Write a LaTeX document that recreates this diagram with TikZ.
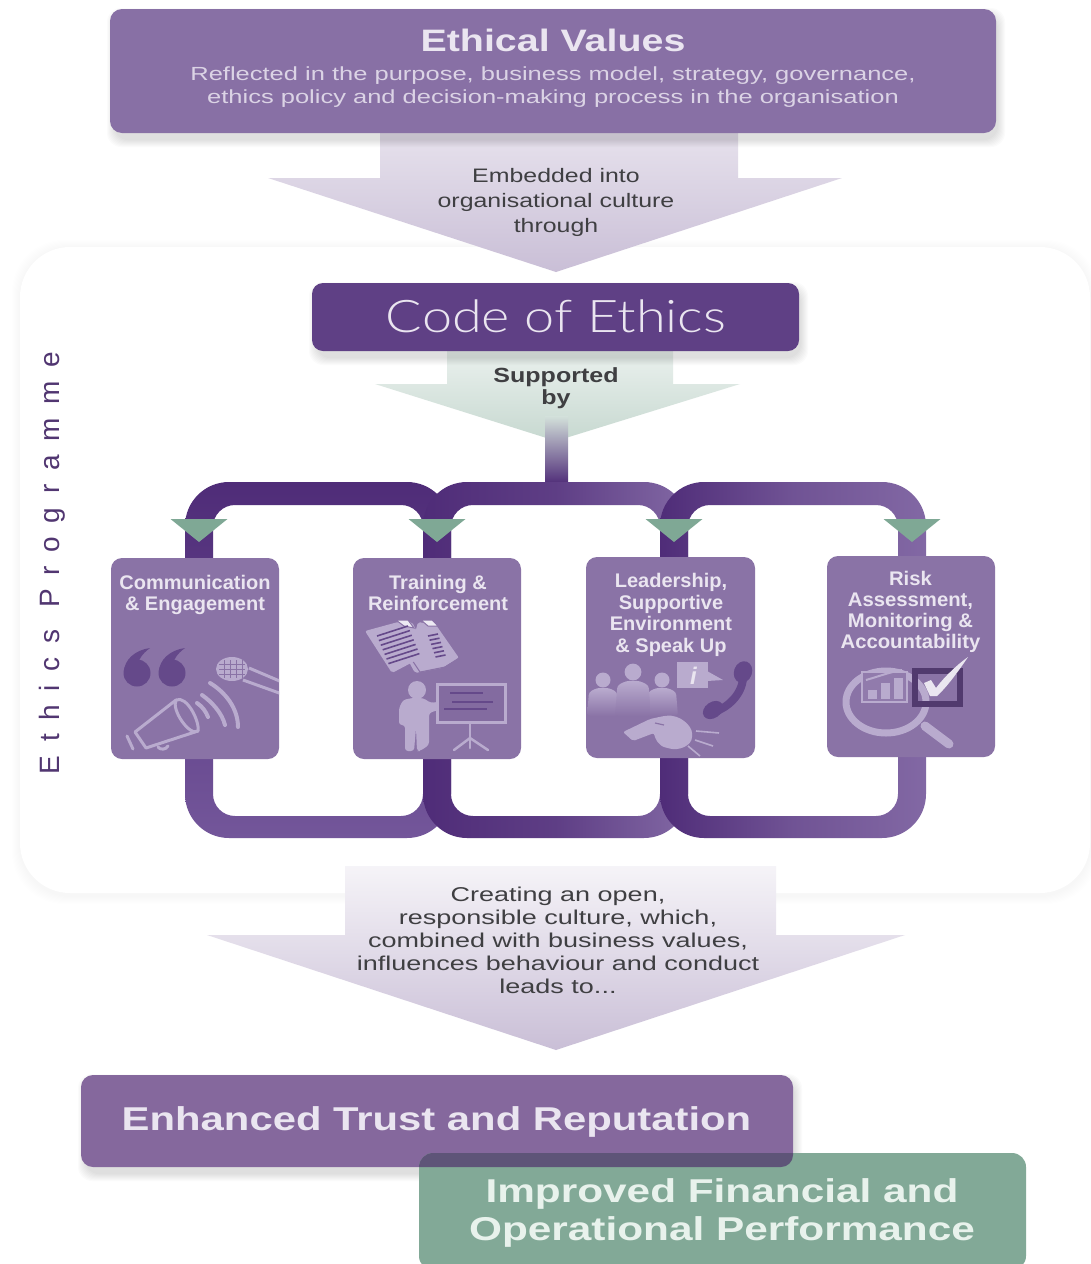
\documentclass[tikz,border=0pt]{standalone}
\usepackage{fontspec}
\usepackage{graphicx}
\setmainfont{Liberation Sans}
\newfontfamily\spacedfont[LetterSpace=49]{Liberation Sans}
\newfontfamily\thinfont{Lato Light}
\definecolor{boxpurple}{HTML}{8A73A6}
\definecolor{topboxc}{HTML}{8870A5}
\definecolor{codec}{HTML}{5F4085}
\definecolor{trustc}{HTML}{85689D}
\definecolor{greenc}{HTML}{82A997}
\definecolor{overlapc}{HTML}{5E5478}
\definecolor{lighttext}{HTML}{EAE5F0}
\definecolor{greytext}{HTML}{3F3F42}
\definecolor{tubedark}{HTML}{4F2C78}
\definecolor{tubemid}{HTML}{73569A}
\definecolor{tubelight}{HTML}{8268A4}
\definecolor{tri}{HTML}{7FA895}
\definecolor{iconl}{HTML}{B9ABCE}
\definecolor{icond}{HTML}{65498A}
\definecolor{greentext}{HTML}{E8F2EC}
\newcommand{\tlines}[4]{\scalebox{#1}[1]{\fontsize{#2}{#3}\selectfont\renewcommand{\arraystretch}{1}\begin{tabular}{@{}c@{}}#4\end{tabular}}}
\newcommand{\softshadow}[4]{\foreach \k in {1,...,8}{\fill[black,opacity=.016,rounded corners=14pt] ({#1-\k+5},{#2-\k+7}) rectangle ({#3+\k+1},{#4+\k+6});}}
\newcommand{\tubeloop}[3]{\shade[even odd rule,#1] [rounded corners=44pt] (#2,482) rectangle (#3,838) [rounded corners=22pt] ({#2+28},505) rectangle ({#3-28},816);}
\tikzset{
  x=1pt,y=-1pt,
  txt/.style={inner sep=0pt,outer sep=0pt,align=center},
  cardbox/.style={fill=boxpurple,rounded corners=11pt},
  cardlabel/.style={txt,font=\bfseries,text=lighttext},
  triangle mark/.style={fill=tri},
  iconline/.style={draw=iconl,line width=3pt,line cap=round,line join=round},
  textrule/.style={draw=icond,line width=2.2pt},
}
\begin{document}
\begin{tikzpicture}
\useasboundingbox (0,0) rectangle (1090,1264);
\fill[white] (0,0) rectangle (1090,1264);

% panel
\foreach \k in {1,...,8}{\fill[black,opacity=.005,rounded corners=52pt] ({20-\k},{247-\k+1}) rectangle ({1090+\k},{893+\k+3});}
\fill[white,rounded corners=50pt] (20,247) rectangle (1090,893);
\node[txt,rotate=90,font=\spacedfont\fontsize{28}{32}\selectfont,text=codec!85!black] (prog) at (52,563) {Ethics Programme};

% first arrow
\shade[top color=white!80!topboxc,bottom color=topboxc!45!white] (380,128)--(738,128)--(738,178)--(842,178)--(556,272)--(268,178)--(380,178)--cycle;
% top box
\softshadow{110}{9}{996}{133}
\fill[fill=topboxc,rounded corners=12pt] (110,9) rectangle (996,133);
\node[txt,font=\bfseries,text=lighttext] (values) at (553,44) {\tlines{1.27}{31}{36}{Ethical Values}};
\node[txt,text=lighttext!85!topboxc] (valuestext) at (553,87) {\tlines{1.342}{19}{23}{Reflected in the purpose, business model, strategy, governance,\\ ethics policy and decision-making process in the organisation}};
\node[txt,text=greytext] (embedded) at (556,202.5) {\tlines{1.277}{19.5}{25}{Embedded into\\ organisational culture\\ through}};

% green arrow
\shade[top color=white!85!greenc,bottom color=greenc!45!white] (447,345)--(673,345)--(673,384)--(740,384)--(556,441)--(375,384)--(447,384)--cycle;
% code box
\softshadow{312}{283}{799}{351}
\fill[codec,rounded corners=11pt] (312,283) rectangle (799,351);
\node[txt,text=lighttext,font=\thinfont] (code) at (556,322) {\tlines{1.2}{45}{50}{Code of Ethics}};
\shade[top color=greenc!35!white,middle color=white!70!gray!80!blue,bottom color=tubedark] (545,416) rectangle (568,484);
\node[txt,font=\bfseries,text=greytext] (support) at (556,389.5) {\tlines{1.22}{20.5}{22}{Supported\\ by}};

% tube loops
\tubeloop{top color=tubedark,bottom color=tubemid}{185}{451}
\tubeloop{left color=tubedark,right color=tubelight,middle color=tubedark!70!tubelight}{423}{688}
\tubeloop{left color=tubedark,right color=tubelight,middle color=tubedark!35!tubelight}{660}{926}

% triangles
\foreach \c in {199,437,674,912}{\fill[triangle mark] ({\c-28.5},519)--({\c+28.5},519)--(\c,542)--cycle;}

% cards
\fill[cardbox] (111,558) rectangle (279,759);
\fill[cardbox] (353,558) rectangle (521,759);
\fill[cardbox] (586,557) rectangle (755,758);
\fill[cardbox] (827,556) rectangle (995,757);
\node[cardlabel] (c1) at (195,595.5) {\tlines{1.015}{19.7}{21}{Communication\\ \& Engagement}};
\node[cardlabel] (c2) at (438,595.5) {\tlines{1.015}{19.7}{21}{Training \&\\ Reinforcement}};
\node[cardlabel] (c3) at (671,615.5) {\tlines{1.015}{19.7}{21.5}{Leadership,\\ Supportive\\ Environment\\ \& Speak Up}};
\node[cardlabel] (c4) at (910.5,612.5) {\tlines{1.03}{19.7}{21}{Risk\\ Assessment,\\ Monitoring \&\\ Accountability}};

% icons card 1: quotes
\foreach \q in {0,35}{
 \fill[icond] (137+\q,673) circle[radius=13.5pt];
 \fill[icond] (124+\q,672) .. controls (124+\q,660) and (135+\q,650) .. (150+\q,648) .. controls (142+\q,654) and (137+\q,660) .. (137+\q,672) -- cycle;
}
% microphone
\begin{scope}
\clip[rounded corners=11pt] (111,558) rectangle (279,759);
\draw[iconl,line width=3pt] (249,668) -- (282,682);
\draw[iconl,line width=3pt] (243,680) -- (282,694);
\end{scope}
\fill[iconl] (232,669) ellipse[x radius=16pt,y radius=12pt];
\foreach \a in {224,230,236,242}{\draw[boxpurple,line width=.7pt] (\a,660) -- (\a,678);}
\foreach \b in {664,669,674}{\draw[boxpurple,line width=.7pt] (219,\b) -- (245,\b);}
% megaphone
\draw[iconline] (176,700) -- (135,732) -- (146,748) -- (198,731);
\draw[iconline] (176,700) .. controls (187,695) and (200,722) .. (198,731) .. controls (190,737) and (171,710) .. (176,700);
\draw[iconline] (127,736) -- (133,749);
\draw[iconline] (158,747) .. controls (160,750) and (166,750) .. (168,746);
\draw[iconl,line width=4pt,line cap=round] (197,703) .. controls (203,707) and (206,712) .. (208,717);
\draw[iconl,line width=4pt,line cap=round] (202,695) .. controls (212,702) and (222,713) .. (225,725);
\draw[iconl,line width=4pt,line cap=round] (210,683) .. controls (225,692) and (238,708) .. (238,727);

% icons card 2: documents
\fill[iconl,rounded corners=2pt] (418,622)--(436,625)--(459,658)--(442,668)--(415,673)--(408,660)--cycle;
\draw[boxpurple,line width=1pt] (412,660)--(420,672)--(445,667)--(459,658);
\fill[iconl,rounded corners=2pt] (365,631)--(398,622)--(412,622)--(428,654)--(392,673)--cycle;
\draw[boxpurple,line width=1pt,fill=white!75!iconl] (396,620)--(404,626)--(414,628)--(408,620)--cycle;
\draw[boxpurple,line width=1pt,fill=white!75!iconl] (421,620)--(428,626)--(438,626)--(432,620)--cycle;
\foreach \i in {0,1,2,3,4,5,6}{\draw[textrule,line width=1.6pt] ({377+\i*1.9},{636+\i*4.6}) -- ({408+\i*1.9},{626+\i*4.6});}
\foreach \i in {0,1,2,3,4,5}{\draw[textrule,line width=1.6pt] ({428+\i*1.5},{636+\i*4.2}) -- ({438+\i*1.5},{634+\i*4.2});}
% presenter
\fill[iconl] (417,690) circle[radius=9pt];
\fill[iconl,rounded corners=3pt] (399,708)--(403,700)--(412,698)--(423,698)--(431,703)--(443,701)--(444,708)--(429,713)--(429,745)--(420,751)--(417,751)--(416,728)--(414,751)--(405,751)--(405,725)--(399,725)--cycle;
\draw[iconl,line width=3pt,fill=boxpurple!80!icond] (437,684) rectangle (505,722);
\draw[textrule] (450,693) -- (483,693);
\draw[textrule] (452,702) -- (493,702);
\draw[textrule] (444,709) -- (487,709);
\draw[iconl,line width=2.5pt,line cap=round] (470,723)--(470,748);
\draw[iconl,line width=2.5pt,line cap=round] (470,738)--(454,750);
\draw[iconl,line width=2.5pt,line cap=round] (470,738)--(488,750);

% icons card 3: people
\foreach \px/\py/\s in {603/680/1,662/680/1,633/672/1.12}{
  \fill[iconl] (\px,\py) circle[radius={7.5*\s pt}];
  \shade[top color=iconl,bottom color=boxpurple,rounded corners=3pt] ({\px-14*\s},{\py+12*\s}) -- ({\px-6*\s},{\py+8*\s}) -- ({\px+6*\s},{\py+8*\s}) -- ({\px+14*\s},{\py+12*\s}) -- ({\px+16*\s},716) -- ({\px-16*\s},716) -- cycle;
}
% speech box
\fill[iconl] (677,662) rectangle (708,688);
\fill[iconl] (707,671) -- (723,680) -- (707,681) -- cycle;
\node[txt,text=lighttext,font=\bfseries\itshape\fontsize{24}{24}\selectfont] (infoi) at (693.5,676) {i};
% phone
\draw[icond,line width=8pt,line cap=round] (743,678) .. controls (742,695) and (727,708) .. (714,712);
\fill[icond,rotate around={-20:(743,672)}] (743,672) ellipse[x radius=9pt,y radius=11pt];
\fill[icond,rotate around={-55:(713,710)}] (713,710) ellipse[x radius=8pt,y radius=11pt];
% whistle
\fill[iconl,rounded corners=2pt] (623,732) -- (650,719) -- (664,716) .. controls (680,714) and (692,726) .. (692,735) .. controls (692,746) and (678,751) .. (668,748) .. controls (658,746) and (655,738) .. (654,733) -- (633,741) -- cycle;
\draw[boxpurple,line width=1.2pt] (655,723)--(664,725);
\draw[iconl,line width=1.6pt] (696,731)--(719,733);
\draw[iconl,line width=1.6pt] (695,740)--(713,746);
\draw[iconl,line width=1.6pt] (688,746)--(700,756);

% icons card 4
\draw[iconl,line width=7pt] (886,702) ellipse[x radius=40pt,y radius=31pt];
\draw[iconl,line width=9pt,line cap=round] (925,726) -- (949,744);
\draw[iconl,line width=1.6pt,fill=boxpurple!85!iconl] (862,672) rectangle (907,702);
\fill[iconl] (868,690) rectangle (877,699);
\fill[iconl] (881,683) rectangle (890,699);
\fill[iconl] (894,678) rectangle (903,699);
\draw[iconl,line width=2pt] (866,680) .. controls (880,676) and (890,672) .. (902,670);
\draw[icond!80!black,line width=6pt] (915,671) rectangle (960,704);
\fill[white!70!iconl] (924,683) -- (931,680) -- (936,688) .. controls (945,676) and (958,664) .. (968,657) .. controls (958,672) and (946,688) .. (937,696) -- (930,696) -- cycle;

% lower arrow
\shade[top color=white!92!topboxc,bottom color=topboxc!45!white] (345,866)--(776,866)--(776,935)--(905,935)--(556,1050)--(207,935)--(345,935)--cycle;
\node[txt,text=greytext] (culture) at (558,943) {\tlines{1.35}{20}{23}{Creating an open,\\ responsible culture, which,\\ combined with business values,\\ influences behaviour and conduct\\ leads to...}};

% bottom boxes
\softshadow{81}{1075}{793}{1167}
\fill[trustc,rounded corners=12pt] (81,1075) rectangle (793,1167);
\fill[greenc,rounded corners=14pt] (419,1153) rectangle (1026,1270);
\begin{scope}
\clip[rounded corners=12pt] (81,1075) rectangle (793,1167);
\fill[overlapc,rounded corners=14pt] (419,1153) rectangle (1026,1270);
\end{scope}
\node[txt,font=\bfseries,text=lighttext] (trust) at (436.5,1123) {\tlines{1.267}{33}{38}{Enhanced Trust and Reputation}};
\node[txt,font=\bfseries,text=greentext] (perf) at (722,1214) {\tlines{1.283}{33}{38}{Improved Financial and\\ Operational Performance}};
\end{tikzpicture}
\end{document}
